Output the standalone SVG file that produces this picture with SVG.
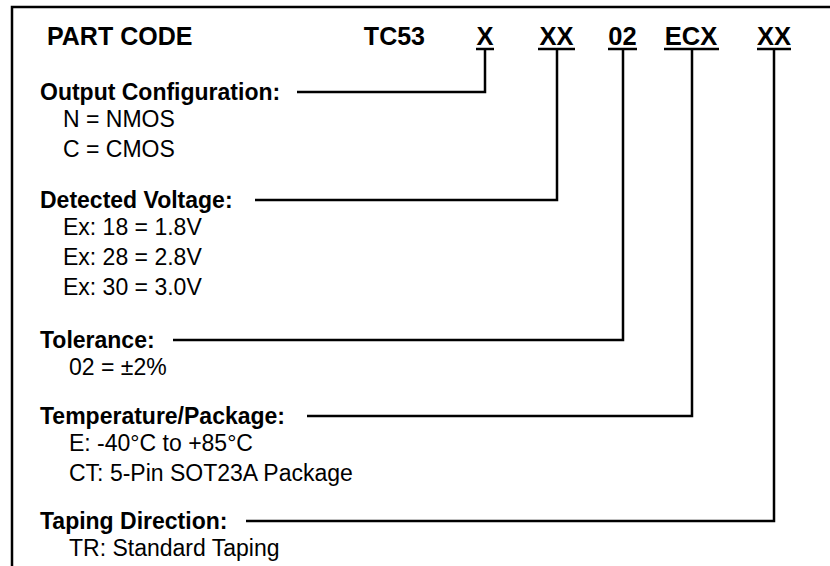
<svg xmlns="http://www.w3.org/2000/svg" width="830" height="566" viewBox="0 0 830 566">
<style>
text{font-family:"Liberation Sans",Arial,sans-serif;fill:#000}
.b{font-weight:bold;font-size:23px}
.r{font-size:23px}
.h{font-weight:bold;font-size:25px}
.c{font-weight:bold;font-size:25.5px;text-anchor:middle}
line,polyline{stroke:#000;stroke-width:2.5;fill:none}
</style>
<rect width="830" height="566" fill="#fff"/>
<g id="frame"><polyline points="12,566 12,7 830,7"/></g>
<g id="header">
<text class="h" x="47" y="45">PART CODE</text>
<text class="h" x="425" y="45" text-anchor="end">TC53</text>
<text class="c" x="485" y="45">X</text>
<text class="c" x="556.5" y="45">XX</text>
<text class="c" x="622.5" y="45">02</text>
<text class="c" x="691" y="45">ECX</text>
<text class="c" x="774" y="45">XX</text>
<line x1="476" y1="49" x2="494" y2="49"/>
<line x1="538" y1="49" x2="575" y2="49"/>
<line x1="608" y1="49" x2="637" y2="49"/>
<line x1="664" y1="49" x2="719" y2="49"/>
<line x1="757" y1="49" x2="791" y2="49"/>
</g>
<g id="output-config">
<text class="b" x="40" y="100">Output Configuration:</text>
<text class="r" x="63" y="127">N = NMOS</text>
<text class="r" x="63" y="157">C = CMOS</text>
</g>
<g id="detected-voltage">
<text class="b" x="40" y="208">Detected Voltage:</text>
<text class="r" x="63" y="235">Ex: 18 = 1.8V</text>
<text class="r" x="63" y="265">Ex: 28 = 2.8V</text>
<text class="r" x="63" y="295">Ex: 30 = 3.0V</text>
</g>
<g id="tolerance">
<text class="b" x="40" y="348">Tolerance:</text>
<text class="r" x="69" y="375">02 = ±2%</text>
</g>
<g id="temp-package">
<text class="b" x="40" y="424">Temperature/Package:</text>
<text class="r" x="69" y="451">E: -40°C to +85°C</text>
<text class="r" x="69" y="481">CT: 5-Pin SOT23A Package</text>
</g>
<g id="taping">
<text class="b" x="40" y="529">Taping Direction:</text>
<text class="r" x="69" y="556">TR: Standard Taping</text>
</g>
<g id="connectors">
<polyline points="297,92 485,92 485,49"/>
<polyline points="255,200 557,200 557,49"/>
<polyline points="173,340 623,340 623,49"/>
<polyline points="307,416 692,416 692,49"/>
<polyline points="246,521 774,521 774,49"/>
</g>
</svg>
